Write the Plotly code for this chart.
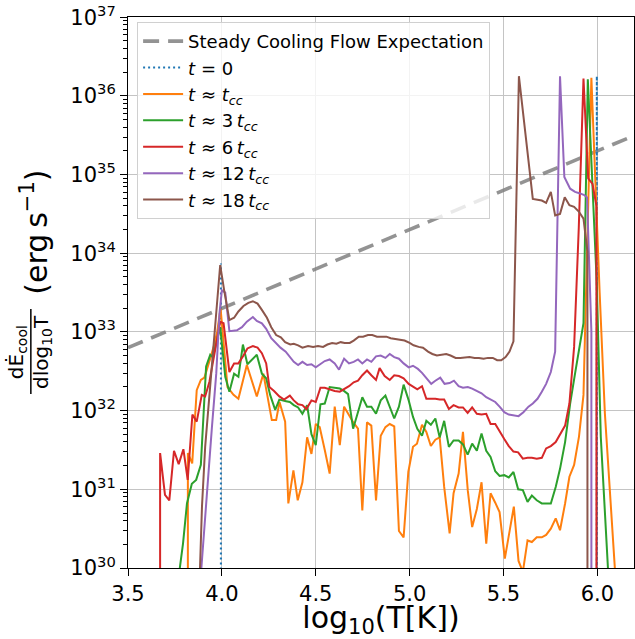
import plotly.graph_objects as go

# ---------------- data (log10 of dE_cool/dlog10T in erg/s; None = empty bin) ----------------
steady_x = [3.5, 6.2]
steady_logL = [32.8, 35.5]

t0_x = [3.99, 3.995, 4.0, 5.992, 5.997, 6.002]
t0_logL = [None, 33.87, None, None, 36.25, None]

orange_x = [3.815, 3.819, 3.842, 3.866, 3.888, 3.907, 3.93, 3.955, 3.975, 3.993, 4.03, 4.062, 4.088, 4.133,
            4.186, 4.221, 4.266, 4.289, 4.307, 4.337, 4.354, 4.381, 4.404, 4.429, 4.454, 4.477, 4.5, 4.521,
            4.548, 4.574, 4.601, 4.628, 4.651, 4.677, 4.70, 4.725, 4.748, 4.773, 4.796, 4.821, 4.846, 4.871,
            4.894, 4.918, 4.943, 4.968, 4.993, 5.018, 5.039, 5.066, 5.089, 5.113, 5.137, 5.16, 5.184, 5.213,
            5.234, 5.261, 5.284, 5.31, 5.333, 5.358, 5.383, 5.408, 5.431, 5.456, 5.479, 5.507, 5.532, 5.555,
            5.58, 5.603, 5.628, 5.651, 5.677, 5.704, 5.727, 5.752, 5.778, 5.801, 5.828, 5.851, 5.876, 5.902,
            5.926, 5.968, 6.012, 6.04, 6.12]
orange_logL = [None, 31.46, 31.33, 32.26, 32.39, 32.42, 32.6, 32.8, 33.0, 33.3, 32.30, 32.2, 32.15, 32.58,
               32.18, 32.47, 31.88, 31.88, 32.11, 31.86, 30.82, 31.24, 30.86, 31.09, 31.66, 31.45, 31.83, 31.79,
               31.5, 31.2, 32.05, 31.56, 32.05, 31.94, 31.85, 31.77, 30.73, 31.85, 31.81, 30.86, 31.68, 31.79,
               31.83, 31.8, 30.47, 30.39, 31.22, 31.54, 31.58, 31.82, 31.73, 31.55, 31.63, 31.66, 31.03, 30.44,
               30.95, 31.2, 31.73, 30.98, 30.52, 30.75, 31.09, 30.31, 30.95, 30.83, 30.71, 30.12, 30.47, 30.78,
               30.09, 29.95, 30.35, 30.33, 30.39, 30.39, 30.42, 30.5, 30.63, 30.48, 30.82, 31.16, 31.31, 31.67,
               32.2, 36.23, 33.5, 31.96, 29.0]

green_x = [3.765, 3.793, 3.814, 3.84, 3.863, 3.888, 3.916, 3.938, 3.952, 3.991, 4.018, 4.04, 4.065, 4.088,
           4.112, 4.136, 4.186, 4.213, 4.236, 4.257, 4.284, 4.306, 4.342, 4.362, 4.383, 4.406, 4.429, 4.454,
           4.477, 4.5, 4.525, 4.548, 4.574, 4.601, 4.628, 4.65, 4.672, 4.699, 4.725, 4.748, 4.773, 4.796,
           4.821, 4.846, 4.871, 4.894, 4.918, 4.943, 4.968, 4.995, 5.018, 5.041, 5.066, 5.089, 5.113, 5.137,
           5.16, 5.184, 5.209, 5.234, 5.261, 5.284, 5.309, 5.333, 5.358, 5.383, 5.408, 5.431, 5.456, 5.479,
           5.504, 5.528, 5.553, 5.578, 5.603, 5.628, 5.651, 5.677, 5.704, 5.727, 5.752, 5.778, 5.801, 5.828,
           5.855, 5.881, 5.926, 5.949, 5.997, 6.018, 6.07]
green_logL = [29.8, 30.31, 30.82, 31.07, 31.12, 31.31, 32.56, 32.71, 32.68, 33.06, 32.43, 32.24, 32.47, 32.43,
              32.84, 32.59, 32.71, 32.47, 32.41, 32.2, 32.01, 32.14, 32.12, 32.11, 32.07, 32.04, 31.96, 32.07,
              31.7, 31.56, 32.08, 32.09, 32.3, 32.29, 32.28, 32.25, 32.21, 31.77, 31.98, 32.17, 32.05, 32.05,
              31.96, 32.13, 32.19, 32.04, 31.9, 32.05, 32.33, 32.13, 31.92, 31.77, 31.68, 31.87, 31.82, 31.9,
              31.66, 31.87, 31.54, 31.62, 31.62, 31.57, 31.44, 31.58, 31.49, 31.71, 31.49, 31.41, 31.23, 31.17,
              31.18, 31.15, 31.22, 31.0, 30.99, 30.84, 30.92, 30.86, 30.82, 30.82, 30.82, 31.03, 31.26, 31.6,
              32.09, 32.47, 33.11, 36.21, 33.6, 31.67, 29.4]

red_x = [3.67, 3.671, 3.697, 3.72, 3.745, 3.77, 3.795, 3.818, 3.843, 3.866, 3.893, 3.911, 3.934, 3.955,
         3.973, 3.991, 4.009, 4.04, 4.065, 4.088, 4.115, 4.136, 4.165, 4.19, 4.213, 4.236, 4.253, 4.278,
         4.306, 4.331, 4.362, 4.383, 4.406, 4.429, 4.45, 4.477, 4.5, 4.525, 4.548, 4.574, 4.601, 4.628,
         4.654, 4.677, 4.702, 4.725, 4.748, 4.773, 4.796, 4.821, 4.84, 4.867, 4.894, 4.918, 4.943, 4.968,
         4.995, 5.018, 5.041, 5.066, 5.089, 5.113, 5.137, 5.16, 5.184, 5.209, 5.234, 5.261, 5.284, 5.309,
         5.333, 5.358, 5.383, 5.408, 5.431, 5.456, 5.479, 5.504, 5.528, 5.553, 5.578, 5.603, 5.628, 5.651,
         5.677, 5.704, 5.727, 5.752, 5.778, 5.801, 5.828, 5.851, 5.876, 5.901, 5.926, 5.951, 5.974, 5.995,
         5.996]
red_logL = [None, 31.46, 30.93, 30.86, 31.49, 31.32, 31.51, 31.12, 31.95, 31.86, 32.2, 32.18, 32.37, 32.64,
            32.9, 33.13, 33.11, 32.49, 32.6, 32.6, 32.7, 32.79, 32.82, 32.8, 32.73, 32.6, 32.3, 32.25,
            32.18, 32.14, 32.19, 32.13, 32.08, 32.07, 32.02, 32.13, 32.11, 32.29, 32.29, 32.27, 32.25, 32.24,
            32.28, 32.31, 32.36, 32.38, 32.45, 32.51, 32.45, 32.39, 32.54, 32.44, 32.39, 32.45, 32.44, 32.41,
            32.34, 32.3, 32.27, 32.31, 32.15, 32.15, 32.15, 32.14, 32.14, 32.02, 32.07, 32.04, 32.04, 31.97,
            32.04, 31.96, 31.95, 31.96, 31.83, 31.83, 31.73, 31.64, 31.55, 31.48, 31.47, 31.39, 31.4, 31.4,
            31.39, 31.4, 31.52, 31.55, 31.6, 31.69, 31.81, 32.09, 32.81, 34.33, 36.22, 34.95, 34.88, 34.6,
            None]

purple_x = [3.875, 3.92, 3.947, 3.97, 3.987, 4.0, 4.018, 4.04, 4.08, 4.107, 4.133, 4.165, 4.186, 4.213,
            4.236, 4.263, 4.289, 4.312, 4.34, 4.364, 4.383, 4.406, 4.429, 4.454, 4.477, 4.5, 4.525, 4.548,
            4.574, 4.601, 4.624, 4.651, 4.677, 4.702, 4.725, 4.748, 4.773, 4.796, 4.821, 4.846, 4.871, 4.894,
            4.918, 4.943, 4.968, 4.995, 5.018, 5.044, 5.066, 5.089, 5.115, 5.137, 5.163, 5.186, 5.213, 5.236,
            5.261, 5.284, 5.31, 5.333, 5.358, 5.383, 5.408, 5.431, 5.456, 5.479, 5.504, 5.528, 5.553, 5.58,
            5.606, 5.633, 5.656, 5.681, 5.704, 5.727, 5.752, 5.775, 5.801, 5.824, 5.855, 5.881, 5.908, 5.93,
            5.945, 5.968, 5.969]
purple_logL = [29.5, 30.99, 31.79, 32.47, 33.23, 33.53, 33.5, 33.01, 33.02, 33.06, 33.13, 33.19, 33.14, 33.11,
               33.04, 32.92, 32.85, 32.8, 32.75, 32.68, 32.62, 32.58, 32.62, 32.58, 32.59, 32.55, 32.59, 32.63,
               32.65, 32.6, 32.52, 32.66, 32.6, 32.62, 32.65, 32.6, 32.65, 32.62, 32.69, 32.7, 32.67, 32.72,
               32.68, 32.66, 32.6, 32.55, 32.57, 32.53, 32.48, 32.41, 32.34, 32.38, 32.42, 32.34, 32.35, 32.38,
               32.31, 32.29, 32.3, 32.28, 32.25, 32.22, 32.17, 32.14, 32.11, 32.05, 31.98, 31.95, 31.94, 31.93,
               31.98, 32.05, 32.09, 32.15, 32.24, 32.34, 32.49, 32.75, 36.25, 34.97, 34.82, 34.78, 34.76, 34.74,
               34.71, 33.0, None]

brown_x = [3.87, 3.894, 3.911, 3.938, 3.955, 3.977, 3.991, 4.012, 4.04, 4.065, 4.088, 4.115, 4.141, 4.165,
           4.19, 4.213, 4.24, 4.263, 4.289, 4.314, 4.337, 4.364, 4.383, 4.406, 4.429, 4.459, 4.486, 4.512,
           4.539, 4.562, 4.587, 4.61, 4.633, 4.654, 4.681, 4.702, 4.729, 4.752, 4.778, 4.801, 4.826, 4.851,
           4.876, 4.899, 4.922, 4.947, 4.973, 5.0, 5.021, 5.048, 5.071, 5.098, 5.121, 5.145, 5.168, 5.195,
           5.218, 5.245, 5.27, 5.296, 5.319, 5.346, 5.369, 5.394, 5.417, 5.443, 5.466, 5.488, 5.511, 5.532,
           5.553, 5.582, 5.656, 5.681, 5.704, 5.727, 5.752, 5.775, 5.801, 5.826, 5.851, 5.876, 5.901, 5.926,
           5.947, 5.948]
brown_logL = [29.0, 30.78, 31.54, 32.35, 32.81, 33.49, 33.85, 33.53, 33.15, 33.18, 33.26, 33.33, 33.37, 33.39,
              33.36, 33.28, 33.18, 33.06, 32.96, 32.93, 32.87, 32.84, 32.85, 32.83, 32.8, 32.82, 32.81, 32.82,
              32.81, 32.84, 32.86, 32.85, 32.87, 32.86, 32.86, 32.89, 32.94, 32.94, 32.96, 32.96, 32.94, 32.94,
              32.94, 32.92, 32.91, 32.9, 32.89, 32.86, 32.83, 32.81, 32.8, 32.75, 32.72, 32.7, 32.71, 32.72,
              32.7, 32.67, 32.67, 32.68, 32.68, 32.67, 32.67, 32.66, 32.67, 32.67, 32.64, 32.64, 32.68, 32.75,
              32.88, 36.25, 34.69, 34.68, 34.67, 34.64, 34.78, 34.48, 34.5, 34.71, 34.61, 34.59, 34.53, 34.44,
              34.02, None]

x_ticks = [3.5, 4.0, 4.5, 5.0, 5.5, 6.0]
y_decades = [30, 31, 32, 33, 34, 35, 36, 37]
legend_labels = [
    "Steady Cooling Flow Expectation",
    "<i>t</i> = 0",
    "<i>t</i> ≈ <i>t</i><sub><i>cc</i></sub>",
    "<i>t</i> ≈ 3\u2009<i>t</i><sub><i>cc</i></sub>",
    "<i>t</i> ≈ 6\u2009<i>t</i><sub><i>cc</i></sub>",
    "<i>t</i> ≈ 12\u2009<i>t</i><sub><i>cc</i></sub>",
    "<i>t</i> ≈ 18\u2009<i>t</i><sub><i>cc</i></sub>",
]

EMPTY = 1e-30


def lin(vals):
    return [EMPTY if v is None else 10 ** v for v in vals]


series = [
    (steady_x, steady_logL, "rgba(128,128,128,0.85)", 3.6, "16px,9px"),
    (t0_x, t0_logL, "#1f77b4", 2.0, "2px,3px"),
    (orange_x, orange_logL, "#ff7f0e", 2.0, "solid"),
    (green_x, green_logL, "#2ca02c", 2.0, "solid"),
    (red_x, red_logL, "#d62728", 2.0, "solid"),
    (purple_x, purple_logL, "#9467bd", 2.0, "solid"),
    (brown_x, brown_logL, "#8c564b", 2.0, "solid"),
]

FONT = "DejaVu Sans"
fig = go.Figure()
for (xs, ls, col, w, dash), name in zip(series, legend_labels):
    assert len(xs) == len(ls), name
    fig.add_trace(go.Scatter(x=xs, y=lin(ls), mode="lines", name=name,
                             line=dict(color=col, width=w, dash=dash)))

major_vals = [10.0 ** d for d in y_decades]
major_text = [f"10<sup>{d}</sup>" for d in y_decades]
minor_vals = [k * 10.0 ** d for d in y_decades[:-1] for k in range(2, 10)]

fig.update_layout(
    width=635, height=639,
    margin=dict(l=128, r=1, t=17, b=71),
    paper_bgcolor="white", plot_bgcolor="white",
    font=dict(family=FONT, color="black"),
    showlegend=True,
    legend=dict(x=0.018, y=0.991, xanchor="left", yanchor="top",
                bgcolor="rgba(255,255,255,0.8)", bordercolor="#d0d0d0", borderwidth=1,
                font=dict(family=FONT, size=18, color="black"), itemwidth=40, tracegroupgap=0),
)
fig.update_xaxes(
    range=[3.5, 6.195], tickvals=x_ticks, ticktext=[f"{v:.1f}" for v in x_ticks],
    ticks="outside", ticklen=7, tickwidth=1, tickcolor="black",
    showline=True, linecolor="black", linewidth=1, mirror=True,
    showgrid=True, gridcolor="#c4c4c4", gridwidth=1, zeroline=False,
    tickfont=dict(family=FONT, size=21),
    title=dict(text="log<sub>10</sub>(T[K])", font=dict(family=FONT, size=30), standoff=8),
)
fig.update_yaxes(
    type="log", range=[30, 37.002], tickvals=major_vals, ticktext=major_text,
    ticks="outside", ticklen=7, tickwidth=1, tickcolor="black",
    minor=dict(tickvals=minor_vals, ticks="outside", ticklen=4, tickwidth=1, tickcolor="black", showgrid=False),
    showline=True, linecolor="black", linewidth=1, mirror=True,
    showgrid=True, gridcolor="#c4c4c4", gridwidth=1, zeroline=False,
    tickfont=dict(family=FONT, size=21),
)

# y-axis label: fraction + units, rotated
fig.add_annotation(text="dĖ<sub>cool</sub>", xref="paper", yref="paper", x=-0.219, y=0.392,
                   textangle=-90, showarrow=False, xanchor="center", yanchor="middle",
                   font=dict(family=FONT, size=20))
fig.add_annotation(text="dlog<sub>10</sub>T", xref="paper", yref="paper", x=-0.170, y=0.392,
                   textangle=-90, showarrow=False, xanchor="center", yanchor="middle",
                   font=dict(family=FONT, size=20))
fig.add_shape(type="line", xref="paper", yref="paper", x0=-0.192, x1=-0.192, y0=0.316, y1=0.470,
              line=dict(color="black", width=1.5))
fig.add_annotation(text="(erg\u2009s<sup>−1</sup>)", xref="paper", yref="paper", x=-0.184, y=0.610,
                   textangle=-90, showarrow=False, xanchor="center", yanchor="middle",
                   font=dict(family=FONT, size=30))

fig.write_html("out.html")
